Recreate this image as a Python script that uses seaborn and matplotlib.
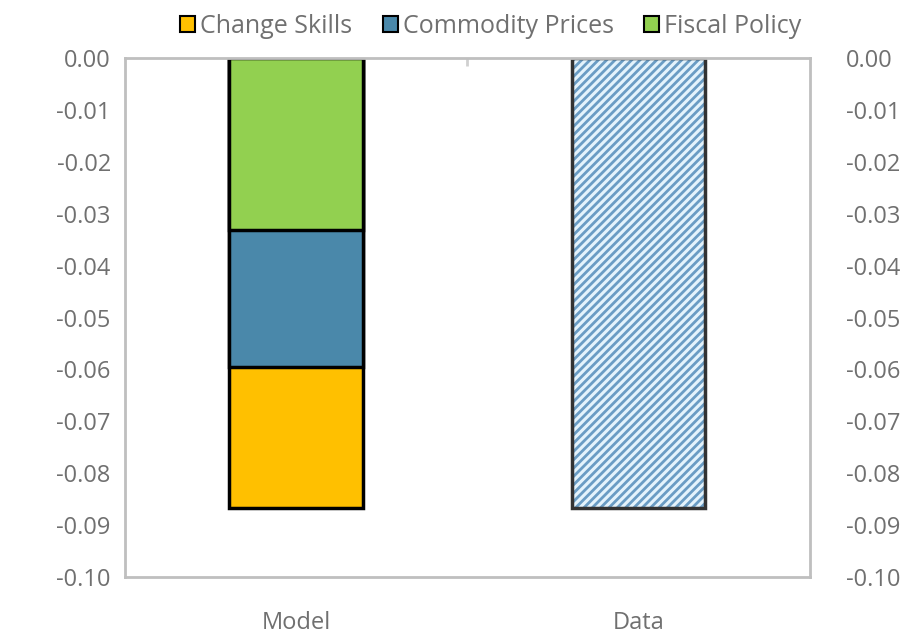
import pandas as pd
import matplotlib.pyplot as plt
import seaborn as sns
from matplotlib.patches import Patch

# values
categories = ["Model", "Data"]
components = ["Change Skills", "Commodity Prices", "Fiscal Policy"]
model_parts = [-0.0272, -0.0263, -0.0332]   # change skills, commodity, fiscal
data_value = -0.0867
colors = ["#FFC000", "#4A88AA", "#92D050"]
yticks = [0.00, -0.01, -0.02, -0.03, -0.04, -0.05, -0.06, -0.07, -0.08, -0.09, -0.10]

sns.set_style("white")
plt.rcParams["font.family"] = ["Open Sans", "DejaVu Sans"]
plt.rcParams["hatch.linewidth"] = 2.0

fig = plt.figure(figsize=(9.17, 6.35), dpi=100)
ax = fig.add_axes([0.136, 0.091, 0.747, 0.818])

# stacked downward: fiscal on top, then commodity, then change skills
stack_order = [2, 1, 0]
cum = 0
tops = {}
for i in stack_order:
    cum += model_parts[i]
    tops[i] = cum

# draw the deepest layer first so shallower layers sit on top
for i in [0, 1, 2]:
    df = pd.DataFrame({"category": ["Model"], "value": [tops[i]]})
    sns.barplot(data=df, x="category", y="value", order=categories,
                color=colors[i], edgecolor="black", linewidth=2.5,
                width=0.39, saturation=1, ax=ax)

# data bar with hatch
df_data = pd.DataFrame({"category": ["Data"], "value": [data_value]})
sns.barplot(data=df_data, x="category", y="value", order=categories,
            color="#E4F3FC", edgecolor="#6A9CC4", hatch="////", linewidth=0,
            width=0.39, saturation=1, ax=ax)
sns.barplot(data=df_data, x="category", y="value", order=categories,
            fill=False, edgecolor="#333333", linewidth=2.5,
            width=0.39, ax=ax)

ax.set_xlim(-0.5, 1.5)
ax.set_ylim(-0.10, 0.0)
ax.set_yticks(yticks)
ax.set_yticklabels([f"{v:.2f}" for v in yticks])
ax.set_xlabel("")
ax.set_ylabel("")

for side in ["top", "bottom", "left", "right"]:
    ax.spines[side].set_color("#BFBFBF")
    ax.spines[side].set_linewidth(2)

ax.tick_params(axis="y", length=0, labelsize=17, labelcolor="#707070", pad=10)
ax.tick_params(axis="x", length=0, labelsize=17, labelcolor="#707070", pad=24)
# small category separator tick on the top edge
ax.set_xticks([0.5], minor=True)
ax.tick_params(axis="x", which="minor", top=True, bottom=False, direction="in",
               length=6, width=2, color="#D0D0D0")

ax2 = ax.twinx()
ax2.set_ylim(-0.10, 0.0)
ax2.set_yticks(yticks)
ax2.set_yticklabels([f"{v:.2f}" for v in yticks])
ax2.tick_params(axis="y", length=0, labelsize=17, labelcolor="#707070", pad=26)
for side in ["top", "bottom", "left", "right"]:
    ax2.spines[side].set_visible(False)

handles = [Patch(facecolor=c, edgecolor="black", linewidth=1.5) for c in colors]
fig.legend(handles, components, loc="center", bbox_to_anchor=(0.535, 0.958),
           ncol=3, frameon=False, fontsize=18, handlelength=0.6, handleheight=0.6,
           handletextpad=0.2, columnspacing=1.2, labelcolor="#707070")

plt.savefig("out.png", dpi=100)
